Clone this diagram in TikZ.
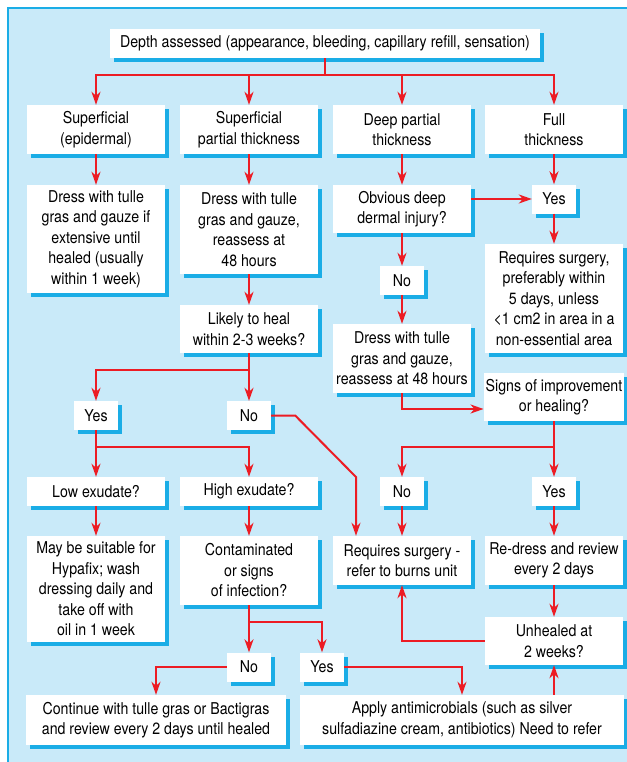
\documentclass[tikz,border=0pt]{standalone}
\usepackage{fontspec}
\setmainfont{TeX Gyre Heros}[FakeStretch=0.87]
\usepackage{tikz}
\usetikzlibrary{arrows.meta,shadows}
\definecolor{panelblue}{HTML}{C9EAF9}
\definecolor{edgeblue}{HTML}{1AADE6}
\definecolor{linkred}{HTML}{EC1C24}

\begin{document}
\begin{tikzpicture}[
    x=1bp, y=-1bp,
    font=\fontsize{16.3bp}{20.5bp}\selectfont,
    block/.style={rectangle, fill=white, align=center, inner sep=2bp, minimum width=138bp,
        drop shadow={shadow xshift=4bp, shadow yshift=-4bp, fill=edgeblue, opacity=1}},
    ans/.style={block, minimum width=44bp, minimum height=29bp},
    line/.style={draw=linkred, line width=2bp},
    arrow/.style={line, -{Stealth[length=13bp, width=9bp, inset=4bp]}},
]
    \useasboundingbox (0,0) rectangle (627,762);
    \fill[panelblue] (8,8) rectangle (627,762);
    \draw[edgeblue, line width=1.5bp] (8,762) -- (8,8) -- (627,8);

    \node[block, minimum width=429bp, minimum height=29bp] (depth) at (325,43.5) {Depth assessed (appearance, bleeding, capillary refill, sensation)};
    \node[block, minimum height=49bp] (sup) at (96,129.5) {Superficial\\(epidermal)};
    \node[block, minimum height=49bp] (spt) at (249,129.5) {Superficial\\partial thickness};
    \node[block, minimum height=49bp] (dpt) at (402,129.5) {Deep partial\\thickness};
    \node[block, minimum height=49bp] (full) at (554,129.5) {Full\\thickness};

    \node[block, minimum height=108bp] (dress1) at (96,239) {Dress with tulle\\gras and gauze if\\extensive until\\healed (usually\\within 1 week)};
    \node[block, minimum height=89bp] (dress2) at (249,229.5) {Dress with tulle\\gras and gauze,\\reassess at\\48 hours};
    \node[block, minimum height=48bp] (deep) at (402,209) {Obvious deep\\dermal injury?};
    \node[ans] (yes1) at (554,199) {Yes};
    \node[ans] (no1) at (402,280.5) {No};
    \node[block, minimum height=109bp] (surg1) at (554,298.5) {Requires surgery,\\preferably within\\5 days, unless\\<1 cm2 in area in a\\non-essential area};
    \node[block, minimum height=48bp] (heal) at (249,329) {Likely to heal\\within 2-3 weeks?};
    \node[block, minimum height=69bp] (dress3) at (402,358.5) {Dress with tulle\\gras and gauze,\\reassess at 48 hours};
    \node[block, minimum height=48bp] (signs) at (554,397) {Signs of improvement\\or healing?};

    \node[ans] (yes2) at (96,415.5) {Yes};
    \node[ans] (no2) at (249,415.5) {No};
    \node[block, minimum height=29bp] (low) at (96,491.5) {Low exudate?};
    \node[block, minimum height=29bp] (high) at (249,491.5) {High exudate?};
    \node[ans] (no3) at (402,491.5) {No};
    \node[ans] (yes3) at (554,491.5) {Yes};

    \node[block, minimum height=106bp] (hypa) at (96,589) {May be suitable for\\Hypafix; wash\\dressing daily and\\take off with\\oil in 1 week};
    \node[block, minimum height=69bp] (infect) at (249,570.5) {Contaminated\\or signs\\of infection?};
    \node[block, minimum height=49bp] (surg2) at (402,560.5) {Requires surgery -\\refer to burns unit};
    \node[block, minimum height=49bp] (redress) at (554,560.5) {Re-dress and review\\every 2 days};
    \node[block, minimum height=48bp] (unheal) at (554,641) {Unhealed at\\2 weeks?};
    \node[ans] (no4) at (249,667) {No};
    \node[ans] (yes4) at (322,667) {Yes};
    \node[block, minimum width=259bp, minimum height=50bp] (tulle) at (156,720) {Continue with tulle gras or Bactigras\\and review every 2 days until healed};
    \node[block, minimum width=324bp, minimum height=50bp] (anti) at (462,720) {Apply antimicrobials (such as silver\\sulfadiazine cream, antibiotics) Need to refer};

    \coordinate (s0) at ([yshift=-17bp]depth.south);
    \draw[line] (depth) -- (s0);
    \foreach \n in {sup,spt,dpt,full}
        \draw[arrow] (s0) -| (\n);

    \foreach \a/\b in {sup/dress1, spt/dress2, dpt/deep, full/yes1, deep/no1, no1/dress3,
                       yes1/surg1, dress2/heal, low/hypa, high/infect, no3/surg2,
                       yes3/redress, redress/unheal}
        \draw[arrow] (\a) -- (\b);

    \draw[arrow] (deep.east |- yes1) -- (yes1);
    \draw[arrow] (dress3) |- ([yshift=-12bp]signs.west);

    \coordinate (s1) at ([yshift=-17bp]heal.south);
    \draw[line] (heal) -- (s1);
    \foreach \n in {yes2,no2}
        \draw[arrow] (s1) -| (\n);

    \coordinate (s2) at ([yshift=-17bp]yes2.south);
    \draw[line] (yes2) -- (s2);
    \foreach \n in {low,high}
        \draw[arrow] (s2) -| (\n);

    \coordinate (s3) at ([yshift=-26bp]signs.south);
    \draw[line] (signs) -- (s3);
    \foreach \n in {no3,yes3}
        \draw[arrow] (s3) -| (\n);

    \coordinate (k1) at ([xshift=24bp]no2.east);
    \coordinate (k2) at (356,477);
    \draw[arrow] (no2) -- (k1) -- (k2) -- (k2 |- surg2.north);

    \coordinate (s4) at ([yshift=-17bp]infect.south);
    \draw[line] (infect) -- (s4);
    \foreach \n in {no4,yes4}
        \draw[arrow] (s4) -| (\n);

    \draw[arrow] (no4) -| (tulle);
    \draw[arrow] (yes4) -| (anti);
    \draw[arrow] (anti.north -| unheal) -- (unheal);
    \draw[arrow] (unheal) -| (surg2);
\end{tikzpicture}
\end{document}
